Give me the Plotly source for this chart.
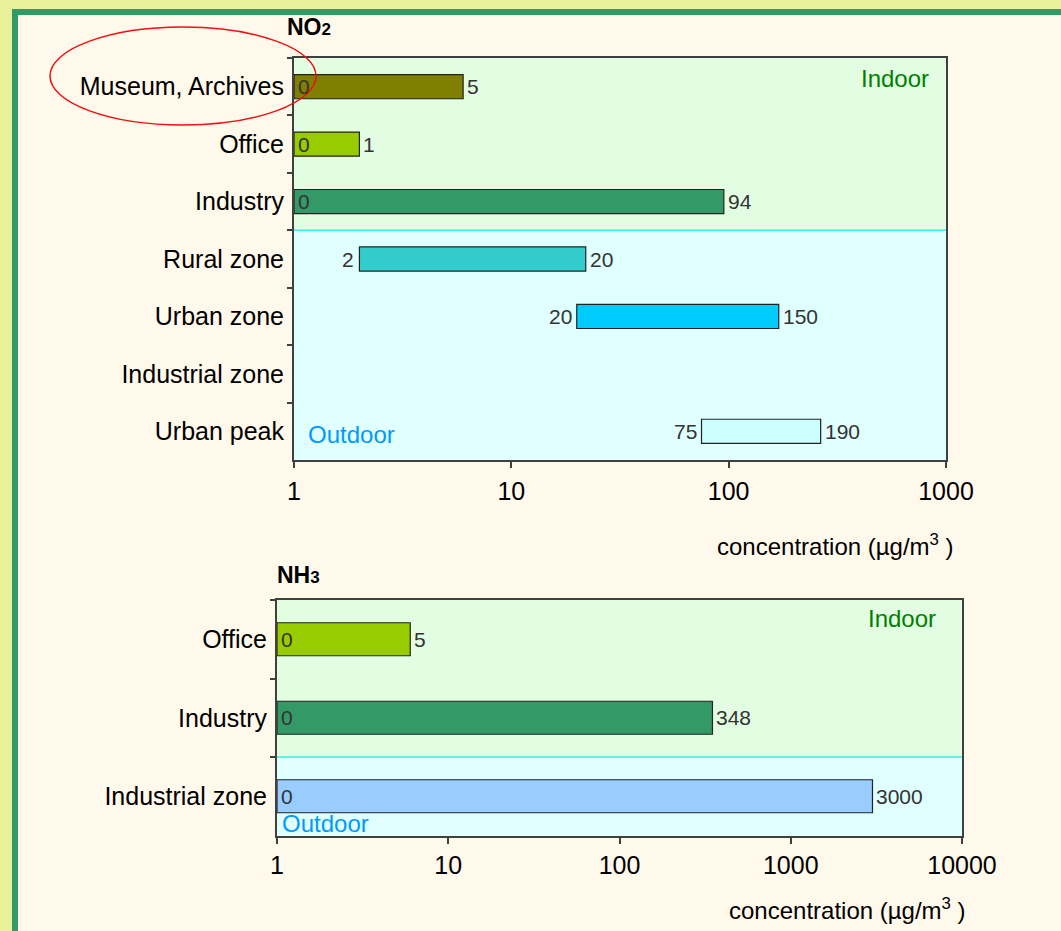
import math
import plotly.graph_objects as go

W, H = 1061, 931

# ---------------- data ----------------
no2_categories = ["Museum, Archives", "Office", "Industry", "Rural zone",
                  "Urban zone", "Industrial zone", "Urban peak"]
no2_low = [0, 0, 0, 2, 20, None, 75]
no2_high = [5, 1, 94, 20, 150, None, 190]
no2_colors = ["#808000", "#99cc00", "#339966", "#33cccc", "#00ccff", "#ffffff", "#ccffff"]
no2_n_indoor = 3
no2_ticks = [1, 10, 100, 1000]

nh3_categories = ["Office", "Industry", "Industrial zone"]
nh3_low = [0, 0, 0]
nh3_high = [5, 348, 3000]
nh3_colors = ["#99cc00", "#339966", "#99ccff"]
nh3_n_indoor = 2
nh3_ticks = [1, 10, 100, 1000, 10000]

# ---------------- style ----------------
FONT = "Liberation Sans, Arial, sans-serif"
CREAM = "#fff9ec"
INDOOR_BG = "#e3fde3"
OUTDOOR_BG = "#e0ffff"
AXIS_C = "#404040"
LABEL_C = "#333333"


def px(x):
    return x / W


def py(y):
    return 1 - y / H


fig = go.Figure()
ann = []


def add_panel(cats, low, high, colors, xa, ya):
    base = [None if l is None else (l if l > 0 else 1) for l in low]
    fig.add_trace(go.Bar(
        y=cats, x=high, base=base, orientation="h", width=0.42,
        marker=dict(color=colors, line=dict(color="#222222", width=1.2)),
        xaxis=xa, yaxis=ya, hoverinfo="skip", showlegend=False))
    for c, l, h, b in zip(cats, low, high, base):
        if b is None:
            continue
        # start label
        ann.append(dict(xref=xa, yref=ya, x=math.log10(b), y=c, text=str(l),
                        showarrow=False, yanchor="middle",
                        xanchor="left" if l == 0 else "right",
                        xshift=2 if l == 0 else -3,
                        font=dict(family=FONT, size=21, color=LABEL_C)))
        # end label
        ann.append(dict(xref=xa, yref=ya, x=math.log10(b + h), y=c, text=str(h),
                        showarrow=False, yanchor="middle", xanchor="left", xshift=2,
                        font=dict(family=FONT, size=21, color=LABEL_C)))


add_panel(no2_categories, no2_low, no2_high, no2_colors, "x", "y")
add_panel(nh3_categories, nh3_low, nh3_high, nh3_colors, "x2", "y2")

# panel geometry (pixels)
P1 = dict(l=294, r=946, t=58, b=460)
P2 = dict(l=277, r=962, t=600, b=835.5)

xcommon = dict(type="log", showgrid=False, showline=True, linecolor=AXIS_C, linewidth=2,
               mirror=True, ticks="outside", ticklen=6, tickcolor=AXIS_C, tickwidth=1.5,
               tickfont=dict(family=FONT, size=25, color="black"), zeroline=False,
               automargin=False, ticklabelstandoff=2, fixedrange=True)
ycommon = dict(type="category", showgrid=False, showline=True, linecolor=AXIS_C, linewidth=2,
               mirror=True, ticks="outside", ticklen=5, tickcolor=AXIS_C, tickwidth=1.5,
               tickson="boundaries", automargin=False, ticklabelstandoff=3,
               tickfont=dict(family=FONT, size=25, color="black"), zeroline=False,
               categoryorder="array", fixedrange=True)

fig.update_layout(
    template="none",
    width=W, height=H, margin=dict(l=0, r=0, t=0, b=0, pad=0), autosize=False,
    showlegend=False,
    paper_bgcolor=CREAM, plot_bgcolor=OUTDOOR_BG,
    xaxis=dict(xcommon, domain=[px(P1["l"]), px(P1["r"])], anchor="y",
               range=[0, 3], tickvals=no2_ticks, ticktext=[str(t) for t in no2_ticks]),
    yaxis=dict(ycommon, domain=[py(P1["b"]), py(P1["t"])], anchor="x",
               categoryarray=no2_categories, range=[len(no2_categories) - 0.5, -0.5]),
    xaxis2=dict(xcommon, domain=[px(P2["l"]), px(P2["r"])], anchor="y2",
                range=[0, 4], tickvals=nh3_ticks, ticktext=[str(t) for t in nh3_ticks],
                ticklabelstandoff=0),
    yaxis2=dict(ycommon, domain=[py(P2["b"]), py(P2["t"])], anchor="x2",
                categoryarray=nh3_categories, range=[len(nh3_categories) - 0.5, -0.5]),
)

shapes = []
# outer frame
shapes.append(dict(type="rect", xref="paper", yref="paper", x0=0, x1=1, y0=py(9), y1=1,
                   fillcolor="#e8f09a", line=dict(width=0), layer="below"))
shapes.append(dict(type="rect", xref="paper", yref="paper", x0=0, x1=px(12), y0=0, y1=1,
                   fillcolor="#e8f09a", line=dict(width=0), layer="below"))
shapes.append(dict(type="rect", xref="paper", yref="paper", x0=px(12), x1=1, y0=py(15), y1=py(9),
                   fillcolor="#339966", line=dict(width=0), layer="below"))
shapes.append(dict(type="rect", xref="paper", yref="paper", x0=px(12), x1=px(18), y0=0, y1=py(9),
                   fillcolor="#339966", line=dict(width=0), layer="below"))

# indoor backgrounds and dividers
for xa, ya, n_in, cats in [("x", "y", no2_n_indoor, no2_categories),
                           ("x2", "y2", nh3_n_indoor, nh3_categories)]:
    frac = 1 - n_in / len(cats)
    shapes.append(dict(type="rect", xref=f"{xa} domain", yref=f"{ya} domain",
                       x0=0, x1=1, y0=frac, y1=1, fillcolor=INDOOR_BG,
                       line=dict(width=0), layer="below"))
    shapes.append(dict(type="line", xref=f"{xa} domain", yref=f"{ya} domain",
                       x0=0, x1=1, y0=frac, y1=frac, line=dict(color="#33eeee", width=1.5),
                       layer="below"))

# red ellipse
shapes.append(dict(type="circle", xref="paper", yref="paper",
                   x0=px(50), x1=px(316), y0=py(125), y1=py(27),
                   line=dict(color="#ee1111", width=1.5)))
fig.update_layout(shapes=shapes)


def text(x, y, s, size=20, color="black", xanchor="left"):
    ann.append(dict(xref="paper", yref="paper", x=px(x), y=py(y), text=s, showarrow=False,
                    xanchor=xanchor, yanchor="middle",
                    font=dict(family=FONT, size=size, color=color)))


text(285, 27, "<b>NO<span style='font-size:17px'>2</span></b>", size=23)
text(275, 575, "<b>NH<span style='font-size:17px'>3</span></b>", size=23)
text(931, 79, "Indoor", size=24, color="#008000", xanchor="right")
text(938, 618, "Indoor", size=24, color="#008000", xanchor="right")
text(306, 435, "Outdoor", size=24, color="#0099ff")
text(280, 823, "Outdoor", size=24, color="#0099ff")
text(715, 545, "concentration (µg/m<sup>3</sup> )", size=24)
text(727, 909, "concentration (µg/m<sup>3</sup> )", size=24)
fig.update_layout(annotations=ann)

fig.write_html("out.html")
